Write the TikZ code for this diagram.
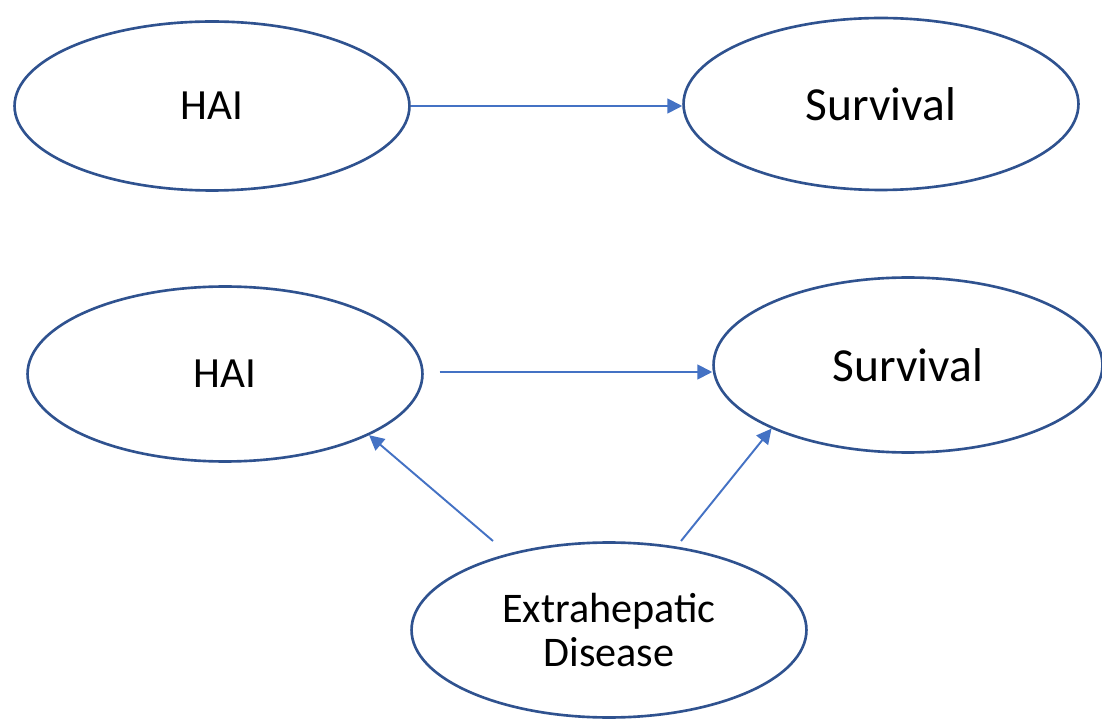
\documentclass[tikz,border=0pt]{standalone}
\usepackage{fontspec}
\setmainfont{Carlito}
\usepackage{xcolor}
\usetikzlibrary{shapes.geometric, arrows.meta}
\definecolor{ovalblue}{HTML}{2F528F}
\definecolor{arrowblue}{HTML}{4472C4}
\tikzset{
oval/.style={draw=ovalblue, line width=1.5pt, shape=ellipse, inner sep=0pt,
minimum width=7.9cm, minimum height=3.44cm},
blue arrow/.style={draw=arrowblue, line width=1.1pt,
-{Triangle[length=8.5pt, width=8.5pt]}},
}

\begin{document}
\begin{tikzpicture}[x=0.02cm, y=-0.02cm]
\useasboundingbox (0,0) rectangle (1102,719);

\node[oval, minimum height=3.38cm, font=\fontsize{24.5}{26}\selectfont] (hai1) at (212,106) {HAI};
\node[oval, font=\fontsize{27}{29}\selectfont] (surv1) at (881,104) {Survival};

\node[oval, minimum height=3.5cm, font=\fontsize{24.5}{26}\selectfont] (hai2) at (225,374) {HAI};
\node[oval, minimum width=7.78cm, minimum height=3.5cm, font=\fontsize{27}{29}\selectfont] (surv2) at (908,365) {Survival};

\node[oval, minimum height=3.5cm, align=center, font=\fontsize{24}{25.5}\selectfont] (extra) at (609,630) {Extrahepatic\\Disease};

\coordinate (e1) at (493,541);
\coordinate (e2) at (681,541);

\draw[blue arrow] (hai1.east) -- (hai1.east -| surv1.west);
\draw[blue arrow, shorten <=9pt] (hai2.east |- 0,372) -- (surv2.west |- 0,372);
\draw[blue arrow] (e1) -- (hai2.-23);
\draw[blue arrow] (e2) -- (surv2.205);
\end{tikzpicture}
\end{document}
